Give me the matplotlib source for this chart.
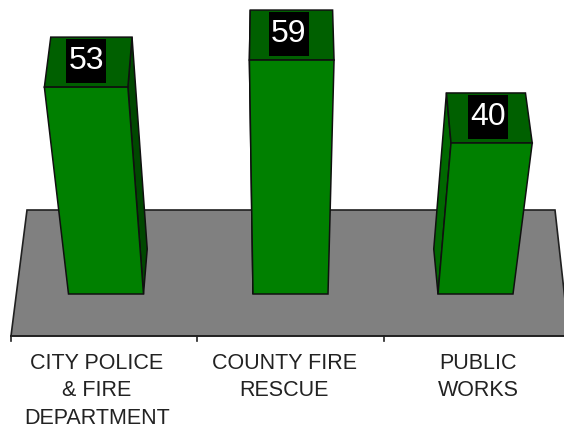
# 3D bar chart, faces are projected from the values by hand
import matplotlib.pyplot as plt
from matplotlib.patches import Polygon, Rectangle

plt.rcParams['font.family'] = ['Liberation Sans', 'DejaVu Sans']

categories = ['CITY POLICE\n& FIRE\nDEPARTMENT', 'COUNTY FIRE\nRESCUE', 'PUBLIC\nWORKS']
values = [53, 59, 40]
tick_labels = ['53', '59', '40']

# projection settings, pixels of the picture
base_y = 294
vanish_x = 281
half_w = 37.5
centers = [106, 290.5, 475.5]
box_shift = [0, -3, -4]
label_x = [97, 284, 478]
label_y = 353


def height_px(v):
    return v / (0.2915 - 0.000666 * v)


def project(x0, v):
    # value -> point on the front plane, narrower toward the bottom
    t = height_px(v)
    return vanish_x + (x0 - vanish_x) * (1 + t / 1822), base_y - t


def back(p, dy):
    return vanish_x + (p[0] - vanish_x) * 0.973, p[1] - dy


fig = plt.figure(figsize=(5.64, 4.29), dpi=100)
ax = fig.add_axes([0, 0, 1, 1])
ax.set_xlim(0, 564)
ax.set_ylim(429, 0)
ax.axis('off')

# floor
ax.add_patch(Polygon([(27, 210), (555, 210), (569, 336), (11, 336)], fc='#808080', ec='#202020', lw=1.2))
ax.plot([11, 564], [336, 336], color='#202020', lw=1.2)
for tx in [11, 197, 384]:
    ax.plot([tx, tx], [336, 341], color='#202020', lw=1.2)

for c, v, txt, cat, lx, sh in zip(centers, values, tick_labels, categories, label_x, box_shift):
    bl = project(c - half_w, 0)
    br = project(c + half_w, 0)
    tl = project(c - half_w, v)
    tr = project(c + half_w, v)
    # side face on the side away from the middle of the chart
    if c < vanish_x:
        side = [tr, back(tr, 50), back(br, 45), br]
        side_c = '#004800'
    else:
        side = [tl, back(tl, 50), back(bl, 45), bl]
        side_c = '#006800'
    ax.add_patch(Polygon(side, fc=side_c, ec='#101010', lw=1.1))
    ax.add_patch(Polygon([tl, tr, back(tr, 50), back(tl, 50)], fc='#006000', ec='#101010', lw=1.1))
    ax.add_patch(Polygon([bl, br, tr, tl], fc='#008000', ec='#101010', lw=1.1))

    mx = (tl[0] + tr[0]) / 2 + sh
    my = tl[1] - 26
    ax.add_patch(Rectangle((mx - 20, my - 22), 40, 44, fc='black', ec='none'))
    ax.text(mx, my, txt, color='white', fontsize=23, ha='center', va='center')

    ax.text(lx, label_y, cat, color='#222222', fontsize=15.5, ha='center', va='top', linespacing=1.4)

fig.savefig('out.png', dpi=100)
